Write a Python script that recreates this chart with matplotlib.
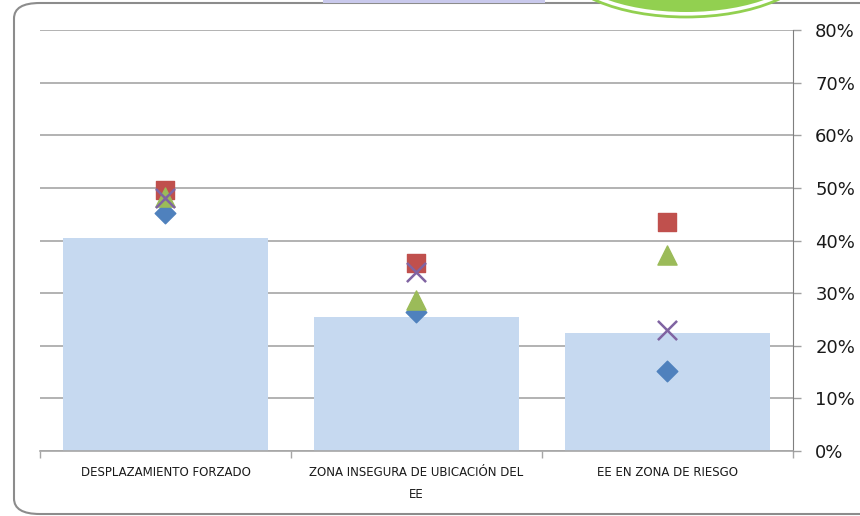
import matplotlib.pyplot as plt
from matplotlib.patches import FancyBboxPatch, Ellipse, Rectangle
from matplotlib.ticker import PercentFormatter

categories = ['DESPLAZAMIENTO FORZADO', 'ZONA INSEGURA DE UBICACIÓN DEL\nEE', 'EE EN ZONA DE RIESGO']
bar_values = [0.405, 0.255, 0.224]
diamond_values = [0.452, 0.264, 0.152]
square_values = [0.496, 0.357, 0.435]
triangle_values = [0.483, 0.287, 0.373]
cross_values = [0.481, 0.340, 0.230]

W, H = 860, 516
fig = plt.figure(figsize=(W / 100, H / 100), dpi=100)

# frame of the chart area (rounded, cut on the right)
frame = FancyBboxPatch((14 / W, 2 / H), 900 / W, 511 / H,
                       boxstyle='round,pad=0,rounding_size=0.03',
                       transform=fig.transFigure, facecolor='white',
                       edgecolor='#8c8c8c', linewidth=1.5, zorder=-2)
fig.patches.append(frame)

# lavender box peeking in from the top
fig.patches.append(Rectangle((323 / W, 513 / H), 222 / W, 5 / H, transform=fig.transFigure,
                             facecolor='#c9c9ec', edgecolor='none', zorder=2))

# green ellipse peeking in from the top right
fig.patches.append(Ellipse((686 / W, 553 / H), 250 / W, 108 / H, transform=fig.transFigure,
                           facecolor='white', edgecolor='#92d050', linewidth=2, zorder=2))
fig.patches.append(Ellipse((686 / W, 553 / H), 238 / W, 98 / H, transform=fig.transFigure,
                           facecolor='#92d050', edgecolor='none', zorder=3))

ax = fig.add_axes([40 / W, 1 - 451 / H, 753 / W, 421 / H])
ax.set_zorder(1)
ax.patch.set_alpha(0)
x = range(len(categories))

ax.bar(x, bar_values, width=0.82, color='#c6d9f0', zorder=2)
ax.scatter(x, diamond_values, marker='D', s=110, color='#4f81bd', zorder=3)
ax.scatter(x, triangle_values, marker='^', s=190, color='#9bbb59', zorder=4)
ax.scatter(x, square_values, marker='s', s=170, color='#c0504d', zorder=3)
ax.scatter(x, cross_values, marker='x', s=190, color='#8064a2', linewidths=1.8, zorder=5)

ax.set_xlim(-0.5, 2.5)
ax.set_ylim(0, 0.8)
ax.set_yticks([i / 10 for i in range(9)])
ax.yaxis.set_major_formatter(PercentFormatter(1.0, decimals=0))
ax.yaxis.tick_right()
ax.tick_params(axis='y', direction='out', length=5.5, width=1, color='#a0a0a0',
               labelsize=13, labelcolor='#1a1a1a', pad=10.5)
ax.grid(axis='y', color='#a6a6a6', linewidth=1.2, zorder=1)
ax.set_axisbelow(True)

ax.set_xticks([-0.5, 0.5, 1.5, 2.5])
ax.set_xticklabels([])
ax.tick_params(axis='x', direction='out', length=5, width=1, color='#a6a6a6')
ax.set_xticks(list(x), minor=True)
ax.set_xticklabels(categories, minor=True, fontsize=8.5, color='#1a1a1a', linespacing=1.9)
ax.tick_params(axis='x', which='minor', length=0, pad=11)

for side in ['top', 'left']:
    ax.spines[side].set_visible(False)
ax.spines['right'].set_color('#7f7f7f')
ax.spines['bottom'].set_color('#a6a6a6')
ax.spines['bottom'].set_linewidth(1.2)

fig.savefig('out.png', dpi=100)
